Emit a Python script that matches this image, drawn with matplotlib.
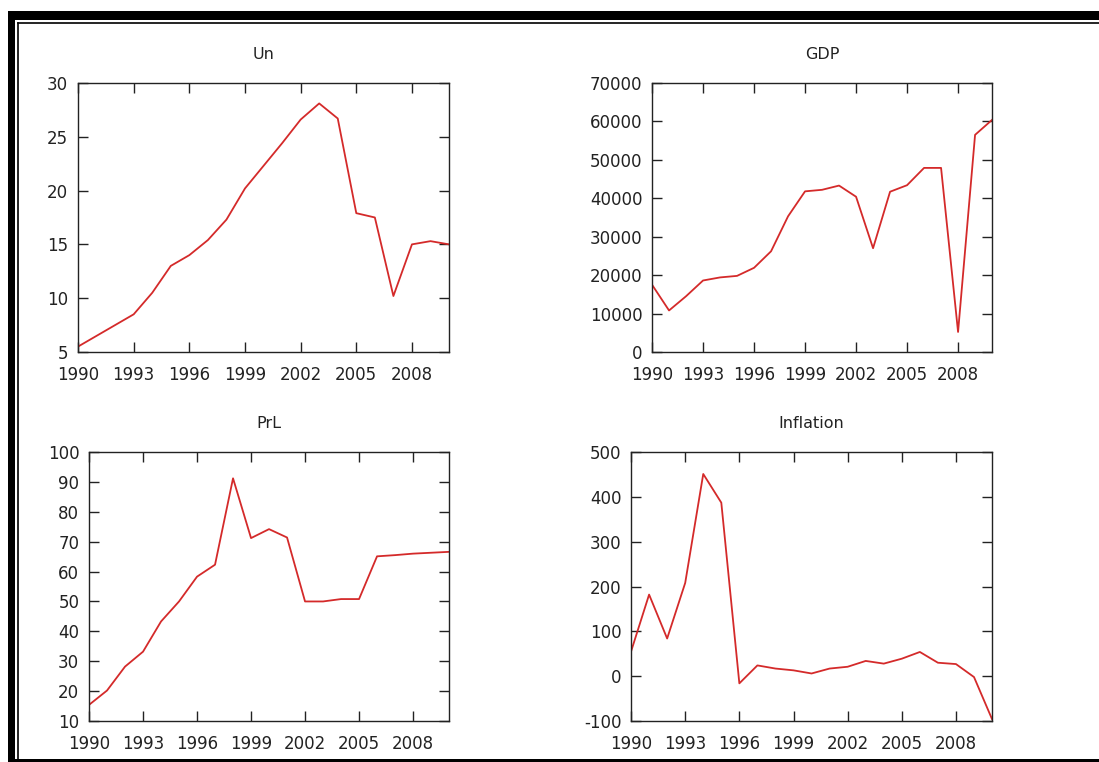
import matplotlib

matplotlib.use("Agg")
import matplotlib.pyplot as plt
from matplotlib.patches import Rectangle
from matplotlib.lines import Line2D

years = list(range(1990, 2011))

un = [5.5, 6.5, 7.5, 8.5, 10.5, 13.0, 14.0, 15.4, 17.3, 20.2, 22.3, 24.4,
      26.6, 28.1, 26.7, 17.9, 17.5, 10.2, 15.0, 15.3, 15.0]
gdp = [17500, 10800, 14500, 18600, 19400, 19800, 21900, 26200, 35300, 41800,
       42200, 43300, 40400, 27000, 41700, 43400, 47900, 47900, 5200, 56500, 60400]
prl = [15.4, 20.2, 28.2, 33.2, 43.3, 50.0, 58.3, 62.3, 91.2, 71.2, 74.2, 71.4,
       50.0, 50.0, 50.8, 50.8, 65.1, 65.5, 66.0, 66.3, 66.6]
inflation = [55, 182, 84, 208, 451, 387, -16, 24, 17, 13, 6, 17, 21, 34, 28,
             39, 54, 30, 27, -2, -96]

x_ticks = [1990, 1993, 1996, 1999, 2002, 2005, 2008]

panels = [
    ("Un", un, [0.0710, 0.5381, 0.3376, 0.3530], (5, 30), [5, 10, 15, 20, 25, 30]),
    ("GDP", gdp, [0.5933, 0.5381, 0.3094, 0.3530], (0, 70000),
     [0, 10000, 20000, 30000, 40000, 50000, 60000, 70000]),
    ("PrL", prl, [0.0810, 0.0538, 0.3276, 0.3530], (10, 100),
     [10, 20, 30, 40, 50, 60, 70, 80, 90, 100]),
    ("Inflation", inflation, [0.5742, 0.0538, 0.3285, 0.3530], (-100, 500),
     [-100, 0, 100, 200, 300, 400, 500]),
]

plt.rcParams["axes.unicode_minus"] = False

fig = plt.figure(figsize=(10.99, 7.62), dpi=100)
fig.patch.set_facecolor("white")

# document frame around the figure (thick black + thin inner line)
frame = [
    Rectangle((8 / 1099, 1 - 20 / 762), 1.0, 9 / 762),     # top band
    Rectangle((8 / 1099, 0.0), 7 / 1099, 1 - 11 / 762),    # left bar
    Rectangle((8 / 1099, 0.0), 1.0, 3 / 762),              # bottom band
]
for r in frame:
    r.set_transform(fig.transFigure)
    r.set_facecolor("black")
    r.set_edgecolor("none")
    fig.add_artist(r)
fig.add_artist(Line2D([17.5 / 1099, 1.0], [1 - 22.5 / 762] * 2,
                      transform=fig.transFigure, color="black", lw=1.2))
fig.add_artist(Line2D([17.5 / 1099] * 2, [3 / 762, 1 - 22.5 / 762],
                      transform=fig.transFigure, color="black", lw=1.2))

for title, values, pos, ylim, yticks in panels:
    ax = fig.add_axes(pos)
    ax.plot(years, values, color="#d42a2a", lw=1.3)
    ax.set_xlim(1990, 2010)
    ax.set_ylim(*ylim)
    ax.set_xticks(x_ticks)
    ax.set_yticks(yticks)
    ax.tick_params(direction="in", length=7, width=1, top=True, right=True,
                   labelsize=12, colors="#222222")
    ax.tick_params(axis="x", pad=10)
    ax.tick_params(axis="y", pad=7)
    for s in ax.spines.values():
        s.set_color("#222222")
        s.set_linewidth(1.0)
    ax.set_title(title, fontsize=11.5, pad=17, color="#222222")

fig.savefig("out.png", dpi=100)
